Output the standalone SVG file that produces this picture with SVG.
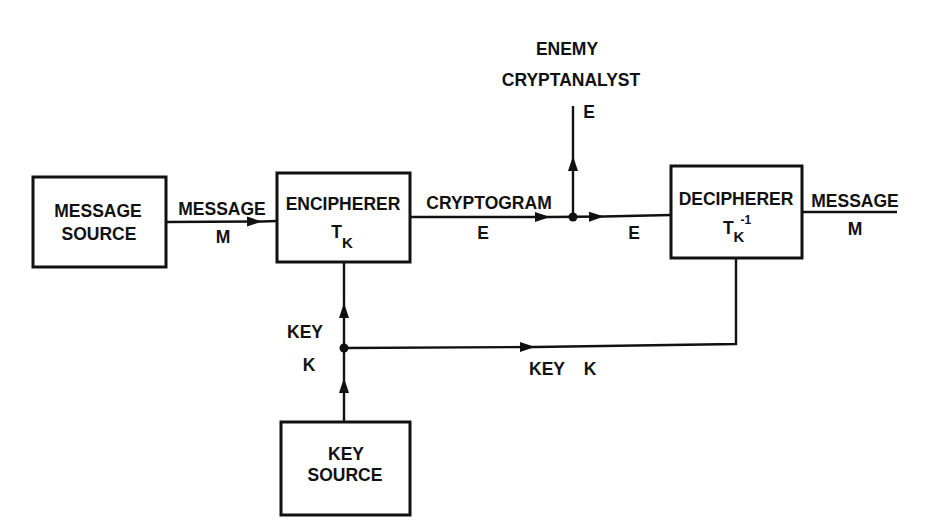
<svg xmlns="http://www.w3.org/2000/svg" width="940" height="520" viewBox="0 0 940 520">
<defs>
<style>
.box{fill:#fff;stroke:#111;stroke-width:3}
.ln{fill:none;stroke:#111;stroke-width:2.4}
.t{font-family:"Liberation Sans",Arial,sans-serif;font-weight:bold;font-size:17.5px;fill:#111;text-anchor:middle}
.s{font-size:15px}
.ss{font-size:12px}
</style>
<marker id="ah" markerUnits="userSpaceOnUse" markerWidth="16" markerHeight="12" viewBox="0 0 16 12" refX="15" refY="6" orient="auto">
<path d="M0,1 L15,6 L0,11 Z" fill="#111"/>
</marker>
</defs>
<rect width="940" height="520" fill="#fff"/>
<g id="connectors">
<line class="ln" x1="166" y1="222" x2="262" y2="221.5" marker-end="url(#ah)"/>
<line class="ln" x1="262" y1="221.5" x2="277" y2="221"/>
<line class="ln" x1="410" y1="217" x2="550" y2="217" marker-end="url(#ah)"/>
<line class="ln" x1="550" y1="217" x2="604" y2="216.5" marker-end="url(#ah)"/>
<line class="ln" x1="604" y1="216.5" x2="671" y2="215"/>
<line class="ln" x1="573" y1="217" x2="573" y2="156" marker-end="url(#ah)"/>
<line class="ln" x1="573" y1="156" x2="573" y2="106"/>
<line class="ln" x1="802" y1="212" x2="897" y2="212"/>
<line class="ln" x1="344" y1="422" x2="344" y2="378" marker-end="url(#ah)"/>
<line class="ln" x1="344" y1="378" x2="344" y2="303" marker-end="url(#ah)"/>
<line class="ln" x1="344" y1="303" x2="344" y2="262"/>
<line class="ln" x1="344" y1="348" x2="535" y2="347" marker-end="url(#ah)"/>
<polyline class="ln" points="535,347 736,344 736,258"/>
<circle cx="573" cy="217" r="4.5" fill="#111"/>
<circle cx="344" cy="348" r="4.5" fill="#111"/>
<text class="t" x="222" y="215">MESSAGE</text>
<text class="t" x="223" y="243">M</text>
<text class="t" x="489" y="209">CRYPTOGRAM</text>
<text class="t" x="483" y="239">E</text>
<text class="t" x="634" y="239">E</text>
<text class="t" x="855" y="207">MESSAGE</text>
<text class="t" x="855" y="235">M</text>
<text class="t" x="305" y="338">KEY</text>
<text class="t" x="309" y="371">K</text>
<text class="t" x="547" y="375">KEY</text>
<text class="t" x="590" y="375">K</text>
</g>
<g id="enemy">
<text class="t" x="567" y="55">ENEMY</text>
<text class="t" x="571" y="86">CRYPTANALYST</text>
<text class="t" x="589" y="118">E</text>
</g>
<g id="message-source">
<rect class="box" x="33" y="177" width="133" height="90"/>
<text class="t" x="98" y="217">MESSAGE</text>
<text class="t" x="99" y="240">SOURCE</text>
</g>
<g id="encipherer">
<rect class="box" x="277" y="173" width="133" height="89"/>
<text class="t" x="343" y="210">ENCIPHERER</text>
<text class="t" x="342" y="238">T<tspan class="s" dy="10">K</tspan></text>
</g>
<g id="decipherer">
<rect class="box" x="671" y="166" width="131" height="92"/>
<text class="t" x="736" y="205">DECIPHERER</text>
<text class="t" x="737" y="234">T<tspan class="s" dy="8">K</tspan><tspan class="ss" dy="-18" dx="-4">-1</tspan></text>
</g>
<g id="key-source">
<rect class="box" x="281" y="422" width="129" height="93"/>
<text class="t" x="346" y="460">KEY</text>
<text class="t" x="345" y="481">SOURCE</text>
</g>
</svg>
